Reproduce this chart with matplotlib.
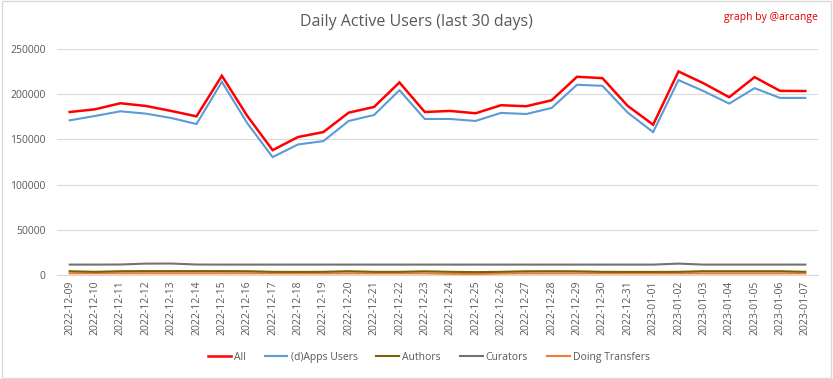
import matplotlib
matplotlib.use("Agg")
import matplotlib.pyplot as plt
import numpy as np

plt.rcParams["font.family"] = ["Open Sans", "DejaVu Sans"]

dates = [
    "2022-12-09", "2022-12-10", "2022-12-11", "2022-12-12", "2022-12-13",
    "2022-12-14", "2022-12-15", "2022-12-16", "2022-12-17", "2022-12-18",
    "2022-12-19", "2022-12-20", "2022-12-21", "2022-12-22", "2022-12-23",
    "2022-12-24", "2022-12-25", "2022-12-26", "2022-12-27", "2022-12-28",
    "2022-12-29", "2022-12-30", "2022-12-31", "2023-01-01", "2023-01-02",
    "2023-01-03", "2023-01-04", "2023-01-05", "2023-01-06", "2023-01-07",
]

all_users = [
    180300, 183300, 190000, 187000, 181500, 175500, 220400, 176000, 138100, 152600,
    158100, 179600, 185900, 213000, 180300, 181500, 178900, 187800, 186700, 193300,
    219300, 217800, 187000, 166300, 225200, 211900, 196700, 218900, 203700, 203500,
]
dapps_users = [
    171100, 175900, 181100, 178500, 173700, 167000, 213700, 168000, 130400, 144400,
    148100, 170400, 177000, 204400, 172600, 172600, 170400, 179300, 178100, 184800,
    210400, 209300, 179600, 158100, 215600, 203300, 189600, 206700, 195900, 195900,
]
authors = [
    4200, 3500, 4200, 4300, 4300, 4300, 4300, 4200, 3500, 3400,
    3500, 4200, 3500, 3500, 4100, 3500, 3200, 3500, 4100, 4200,
    4100, 3500, 3400, 3400, 3500, 4200, 4200, 4200, 4200, 3500,
]
curators = [
    11500, 11500, 11600, 12600, 12700, 11600, 11500, 11500, 11500, 11500,
    11500, 11500, 11500, 11500, 11500, 11500, 11500, 11500, 11500, 11500,
    11500, 11500, 11500, 11500, 12600, 11500, 11500, 11500, 11500, 11500,
]
transfers = [
    1900, 1900, 1900, 1900, 1900, 1900, 1900, 1900, 1800, 1800,
    1800, 1800, 1800, 1800, 1800, 1300, 1000, 1600, 1800, 1800,
    1800, 1800, 1800, 1800, 1800, 1800, 1800, 1800, 1800, 1800,
]

series = [
    ("All", all_users, "#ff0000", 1.8),
    ("(d)Apps Users", dapps_users, "#5b9bd5", 1.5),
    ("Authors", authors, "#7f6000", 1.5),
    ("Curators", curators, "#767171", 1.5),
    ("Doing Transfers", transfers, "#ed7d31", 1.5),
]

fig = plt.figure(figsize=(8.33, 3.79), dpi=100)
ax = fig.add_axes([0.0684, 0.2744, 0.9136, 0.5963])

x = np.arange(len(dates))
# small series first so the big ones sit on top
for name, vals, color, lw in reversed(series):
    ax.plot(x, vals, color=color, lw=lw, label=name, solid_joinstyle="miter")

ax.set_xlim(-0.5, len(dates) - 0.5)
ax.set_ylim(0, 250000)
ax.set_yticks(np.arange(0, 250001, 50000))
ax.set_xticks(x)
ax.set_xticklabels(dates, rotation=90, fontsize=7.5, color="#595959")
ax.tick_params(axis="y", labelsize=7.5, colors="#595959", length=0, pad=8)
ax.tick_params(axis="x", length=0, pad=4)
ax.grid(axis="y", color="#d9d9d9", lw=0.8)
ax.set_axisbelow(True)
for side in ("top", "right", "left"):
    ax.spines[side].set_visible(False)
ax.spines["bottom"].set_color("#d9d9d9")

fig.text(0.5, 0.942, "Daily Active Users (last 30 days)", ha="center", va="center",
         fontsize=11.5, color="#595959")
fig.text(0.982, 0.955, "graph by @arcange", ha="right", va="center",
         fontsize=7.5, color="#e00000")

handles, labels = ax.get_legend_handles_labels()
order = [labels.index(s[0]) for s in series]
fig.legend([handles[i] for i in order], [labels[i] for i in order],
           loc="center", bbox_to_anchor=(0.515, 0.058), ncol=5, frameon=False,
           fontsize=7.5, handlelength=2.2, handletextpad=0.3, columnspacing=1.8,
           labelcolor="#595959")

border = plt.Rectangle((0.002, 0.003), 0.996, 0.994, transform=fig.transFigure,
                       fill=False, edgecolor="#d9d9d9", lw=1)
fig.patches.append(border)

fig.savefig("out.png", dpi=100)
